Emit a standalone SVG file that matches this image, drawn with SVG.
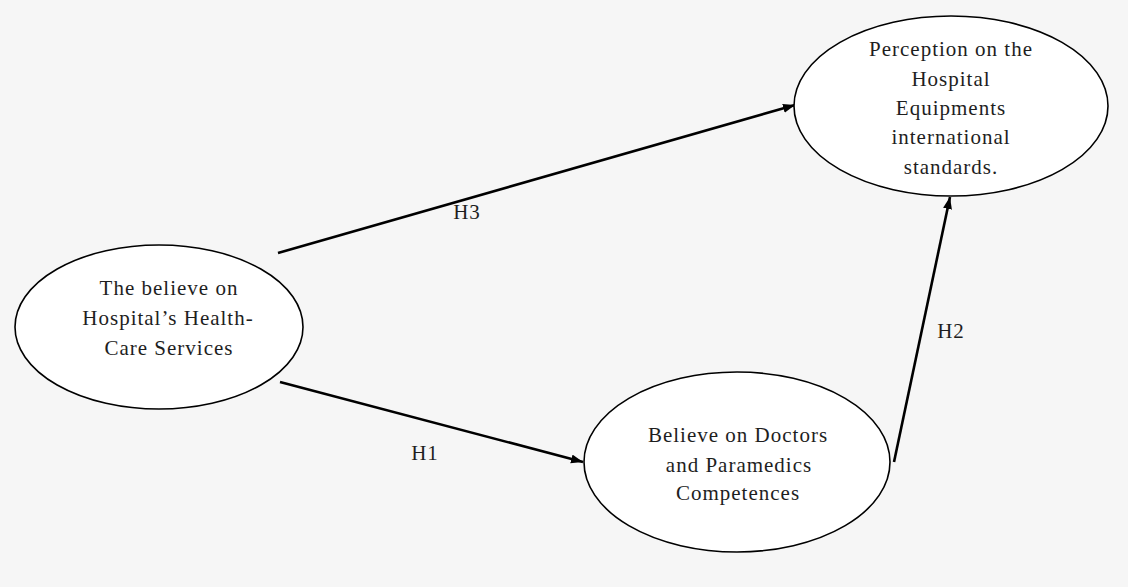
<svg xmlns="http://www.w3.org/2000/svg" width="1128" height="587" viewBox="0 0 1128 587">
<style>
.bg{fill:#f6f6f6}
.node ellipse{fill:#ffffff;stroke:#000000;stroke-width:1.6}
text{font-family:"Liberation Serif","Times New Roman",serif;font-size:21px;fill:#1e1e1e;letter-spacing:1px;text-anchor:middle}
.edge{stroke:#000000;stroke-width:2.6;fill:none;marker-end:url(#arrow)}
</style>
<defs>
<marker id="arrow" markerUnits="userSpaceOnUse" markerWidth="13" markerHeight="10" refX="12" refY="4.5" orient="auto">
<path d="M0,0 L12,4.5 L0,9 z" fill="#000000"/>
</marker>
</defs>
<rect class="bg" x="0" y="0" width="1128" height="587"/>
<g id="connectors">
<line class="edge" x1="278" y1="253" x2="795" y2="105"/>
<line class="edge" x1="280" y1="382" x2="583" y2="462"/>
<line class="edge" x1="894" y1="462" x2="950" y2="197"/>
<text x="467" y="219">H3</text>
<text x="425" y="460">H1</text>
<text x="951" y="338">H2</text>
</g>
<g id="node-perception" class="node">
<ellipse cx="951" cy="106" rx="157" ry="90"/>
<text x="951" y="56">Perception on the</text>
<text x="951" y="86">Hospital</text>
<text x="951" y="115">Equipments</text>
<text x="951" y="144">international</text>
<text x="951" y="174">standards.</text>
</g>
<g id="node-believe" class="node">
<ellipse cx="159" cy="327" rx="144" ry="82"/>
<text x="169" y="295">The believe on</text>
<text x="168" y="325">Hospital’s Health-</text>
<text x="169" y="355">Care Services</text>
</g>
<g id="node-doctors" class="node">
<ellipse cx="737" cy="462" rx="153" ry="90"/>
<text x="738" y="442">Believe on Doctors</text>
<text x="739" y="472">and Paramedics</text>
<text x="738" y="500">Competences</text>
</g>
</svg>
